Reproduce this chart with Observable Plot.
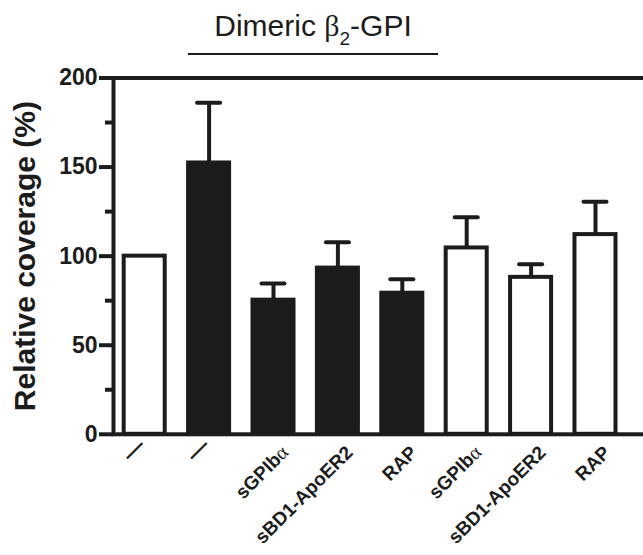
<!DOCTYPE html>
<html><head><meta charset="utf-8">
<script src="https://cdn.jsdelivr.net/npm/d3@7"></script>
<script src="https://cdn.jsdelivr.net/npm/@observablehq/plot@0.6"></script>
<style>
body{margin:0;background:#fff;font-family:"Liberation Sans",Arial,sans-serif;}
#wrap{position:relative;width:643px;height:555px;overflow:hidden;background:#fff}
#title{position:absolute;left:188px;top:11px;width:250px;text-align:center;font-size:30px;line-height:30px;color:#1c1c1c;padding-bottom:8px;border-bottom:2px solid #1c1c1c;white-space:nowrap}
#title .sub{font-size:19px;position:relative;top:9px}
#chart{position:absolute;left:0;top:62px}
</style></head><body>
<div id="wrap">
<div id="title">Dimeric <span style="font-family:'Liberation Serif',serif">β</span><span class="sub">2</span>-GPI</div>
<div id="chart"></div>
</div>
<script>
const keys = ["c1","c2","c3","c4","c5","c6","c7","c8"];
const labels = ["—","—","sGPIbα","sBD1-ApoER2","RAP","sGPIbα","sBD1-ApoER2","RAP"];
const means = [100, 152.3, 75.3, 93.3, 79.2, 104.6, 88.1, 112.1];
const upperErr = [null, 186.1, 84.7, 107.8, 87.1, 121.9, 95.4, 130.5];
const filled = [false, true, true, true, true, false, false, false];
const majorTicks = [0, 50, 100, 150, 200];
const minorTicks = [25, 75, 125, 175];
const yLabel = "Relative coverage (%)";

const ink = "#1c1c1c";
const data = keys.map((k, i) => ({key: k, label: labels[i], mean: means[i], upper: upperErr[i], filled: filled[i]}));
const errData = data.filter(d => d.upper != null);

const plot = Plot.plot({
  width: 643, height: 493,
  marginTop: 15.5, marginBottom: 121.2, marginLeft: 113, marginRight: 0,
  x: {domain: keys, paddingInner: 0.363, paddingOuter: 0.2965, align: 0.28, round: false, axis: null},
  y: {domain: [0, 200], axis: null},
  style: {fontFamily: "Liberation Sans, Arial, sans-serif", color: ink, background: "white", overflow: "hidden"},
  marks: [
    Plot.ruleX(errData, {x: "key", y1: "mean", y2: "upper", stroke: ink, strokeWidth: 4}),
    Plot.tickY(errData, {x: "key", y: "upper", stroke: ink, strokeWidth: 4, strokeLinecap: "round", inset: 9}),
    Plot.barY(data.filter(d => d.filled), {x: "key", y: "mean", fill: ink, stroke: ink, strokeWidth: 4}),
    Plot.barY(data.filter(d => !d.filled), {x: "key", y: "mean", fill: "white", stroke: ink, strokeWidth: 4}),
    Plot.frame({stroke: ink, strokeWidth: 4, insetRight: -10}),
    Plot.axisY({ticks: majorTicks, tickSize: 14, tickPadding: 2, strokeWidth: 4, fontSize: 23, fontWeight: "bold", label: null, tickFormat: d => d}),
    Plot.axisY({ticks: minorTicks, tickSize: 8, strokeWidth: 4, tickFormat: () => "", label: null}),
    Plot.text([yLabel], {frameAnchor: "left", textAnchor: "middle", rotate: -90, dx: -88.6, fontSize: 30, fontWeight: "bold", fill: ink}),
    Plot.text(data.filter(d => d.label !== "—"), {x: "key", frameAnchor: "bottom", text: "label", rotate: -45, textAnchor: "end", dx: 16, dy: 19.4, fontSize: 19, fontWeight: "bold", fill: ink}),
    Plot.text(data.filter(d => d.label === "—"), {x: "key", frameAnchor: "bottom", text: "label", rotate: -45, textAnchor: "middle", dx: -6, dy: 20.7, fontSize: 22, fontWeight: "bold", fill: ink})
  ]
});
document.getElementById("chart").appendChild(plot);

// category labels: α in a lighter serif face; rotation carried by a wrapping group
d3.select(plot).selectAll("text").each(function() {
  const t = this.textContent;
  const tr = this.getAttribute("transform") || "";
  if (!tr.includes("rotate(-45)")) return;
  const sel = d3.select(this);
  if (t.includes("α")) {
    sel.text(t.replace("α", ""));
    sel.append("tspan").attr("font-weight", "normal").attr("font-family", "Liberation Serif, serif").attr("font-size", 20).text("α");
  }
  const g = document.createElementNS("http://www.w3.org/2000/svg", "g");
  g.setAttribute("transform", tr);
  this.parentNode.insertBefore(g, this);
  g.appendChild(this);
  this.removeAttribute("transform");
});
</script>
</body></html>
